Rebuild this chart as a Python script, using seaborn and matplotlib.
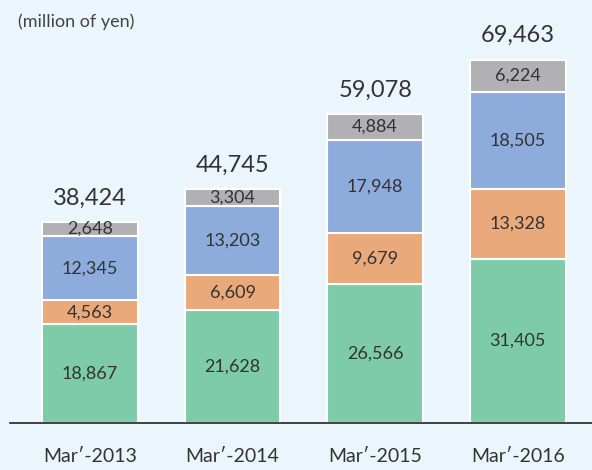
import matplotlib
matplotlib.use("Agg")
import matplotlib.pyplot as plt
import seaborn as sns
import numpy as np
import pandas as pd

categories = ["Mar\u2032-2013", "Mar\u2032-2014", "Mar\u2032-2015", "Mar\u2032-2016"]
green = [18867, 21628, 26566, 31405]
orange = [4563, 6609, 9679, 13328]
blue = [12345, 13203, 17948, 18505]
gray = [2648, 3304, 4884, 6224]
totals = [38424, 44745, 59078, 69463]
unit_label = "(million of yen)"

colors = ["#7dcba9", "#e9a97a", "#8dacdb", "#b1b1b4"]
bg = "#eaf6fc"
txt = "#333333"

sns.set_theme(style="white")
plt.rcParams["font.family"] = ["Lato", "DejaVu Sans"]

fig = plt.figure(figsize=(5.92, 4.70), dpi=100, facecolor=bg)
ax = fig.add_axes([10 / 592, 47 / 470, 1 - 10 / 592, 423 / 470])
ax.set_facecolor(bg)

series = [green, orange, blue, gray]
bottom = np.zeros(len(categories))
for vals, col in zip(series, colors):
    df = pd.DataFrame({"cat": categories, "val": vals})
    sns.barplot(data=df, x="cat", y="val", order=categories, color=col,
                width=0.67, bottom=bottom, edgecolor="white", linewidth=1.5,
                saturation=1, ax=ax, errorbar=None)
    for i, v in enumerate(vals):
        ax.text(i, bottom[i] + v / 2, f"{v:,}", ha="center", va="center",
                fontsize=13, color=txt)
    bottom = bottom + np.array(vals)

for i, t in enumerate(totals):
    ax.text(i, bottom[i] + 2600, f"{t:,}", ha="center", va="bottom",
            fontsize=17, color=txt)

ax.set_xlim(-0.56, 3.52)
ax.set_ylim(0, 80900)
ax.set_xlabel("")
ax.set_ylabel("")
ax.set_yticks([])
for s in ["top", "right", "left"]:
    ax.spines[s].set_visible(False)
ax.spines["bottom"].set_color("#222222")
ax.spines["bottom"].set_linewidth(1.2)
ax.tick_params(axis="x", length=0, pad=18, labelsize=14, labelcolor=txt)

fig.text(18 / 592, 1 - 22 / 470, unit_label, ha="left", va="center",
         fontsize=13, color="#444444")

fig.savefig("out.png", dpi=100, facecolor=bg)
